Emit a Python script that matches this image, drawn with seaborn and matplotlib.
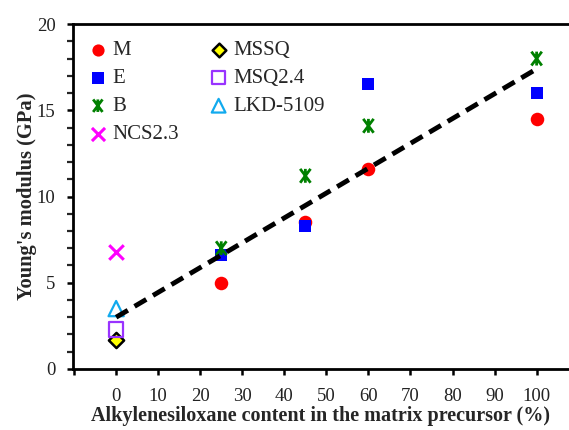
import matplotlib
matplotlib.use("Agg")
import matplotlib.pyplot as plt
from matplotlib.ticker import MultipleLocator
from matplotlib.path import Path
import seaborn as sns
import pandas as pd

# Alkylenesiloxane content (%) and Young's modulus (GPa)
content = [25, 45, 60, 100]
modulus_m = [5.0, 8.5, 11.6, 14.5]
modulus_e = [6.6, 8.3, 16.5, 16.0]
modulus_b = [7.0, 11.2, 14.1, 18.0]

# reference materials at 0 %
ref_content = [0]
modulus_ncs = [6.8]
modulus_mssq = [1.7]
modulus_msq = [2.3]
modulus_lkd = [3.5]

# linear trend line end points
fit_x = [0, 100]
fit_y = [3.0, 17.4]

xtick_vals = list(range(-10, 101, 10))
xtick_labels = [''] + [str(v) for v in range(0, 101, 10)]

sns.set_style("ticks")
plt.rcParams['font.family'] = ['Liberation Serif', 'DejaVu Serif']

# x with a vertical bar (Origin style "star")
star = Path([(-0.75, -1), (0.75, 1), (-0.75, 1), (0.75, -1), (0, -1), (0, 1)],
            [Path.MOVETO, Path.LINETO, Path.MOVETO, Path.LINETO, Path.MOVETO, Path.LINETO])

fig = plt.figure(figsize=(5.69, 4.30), dpi=100)
ax = fig.add_axes([0.128, 0.142, 0.872, 0.802])

# series: (label, x, y, marker, face, edge, size, lw)
series = [
    ('M', content, modulus_m, 'o', 'red', 'red', 95, 0),
    ('E', content, modulus_e, 's', 'blue', 'blue', 85, 0),
    ('B', content, modulus_b, star, 'none', 'green', 100, 2.0),
    ('NCS2.3', ref_content, modulus_ncs, 'x', 'magenta', 'magenta', 110, 2.2),
    ('MSSQ', ref_content, modulus_mssq, 'D', 'yellow', 'black', 60, 1.8),
    ('MSQ2.4', ref_content, modulus_msq, 's', 'none', '#9933ff', 110, 1.6),
    ('LKD-5109', ref_content, modulus_lkd, '^', 'none', '#11aaee', 120, 1.6),
]

for label, xs, ys, mk, fc, ec, s, lw in series:
    df = pd.DataFrame({'x': xs, 'y': ys})
    if label == 'NCS2.3':
        sns.scatterplot(data=df, x='x', y='y', ax=ax, marker=mk, color=fc,
                        s=s, linewidth=lw, label=label, zorder=3)
    else:
        sns.scatterplot(data=df, x='x', y='y', ax=ax, marker=mk, facecolor=fc,
                        edgecolor=ec, s=s, linewidth=lw, label=label, zorder=3)
    # seaborn fills custom path markers, strip the fill again
    if fc == 'none':
        ax.collections[-1].set_facecolor('none')

fit_df = pd.DataFrame({'x': fit_x, 'y': fit_y})
sns.lineplot(data=fit_df, x='x', y='y', ax=ax, color='black', linewidth=3.5,
             linestyle=(0, (2.8, 1.6)), zorder=4)

ax.set_xlim(-10.3, 107.7)
ax.set_ylim(0, 20)
ax.set_xticks(xtick_vals)
ax.set_xticklabels(xtick_labels)
ax.set_yticks([0, 5, 10, 15, 20])
ax.yaxis.set_minor_locator(MultipleLocator(1))
ax.tick_params(axis='both', which='major', direction='out', length=4.5, width=1.8,
               labelsize=13.5, colors='black', labelcolor='#222222')
ax.tick_params(axis='y', which='minor', direction='out', length=4, width=1.6)
ax.tick_params(axis='x', which='major', pad=9)
ax.tick_params(axis='y', which='major', pad=8)

for side in ['left', 'bottom', 'top']:
    ax.spines[side].set_linewidth(2)
    ax.spines[side].set_color('black')
ax.spines['right'].set_visible(False)

ax.set_xlabel('Alkylenesiloxane content in the matrix precursor (%)',
              fontsize=14.5, fontweight='bold', labelpad=1)
ax.set_ylabel("Young's modulus (GPa)", fontsize=14.8, fontweight='bold', labelpad=0)

ax.legend(loc='upper left', ncol=2, frameon=False, fontsize=15,
          handlelength=0.8, handletextpad=0.3, columnspacing=1.5,
          labelspacing=0.4, borderaxespad=0.4, borderpad=0.4,
          markerscale=0.9, bbox_to_anchor=(0.0, 1.0))

fig.savefig('out.png', dpi=100)
